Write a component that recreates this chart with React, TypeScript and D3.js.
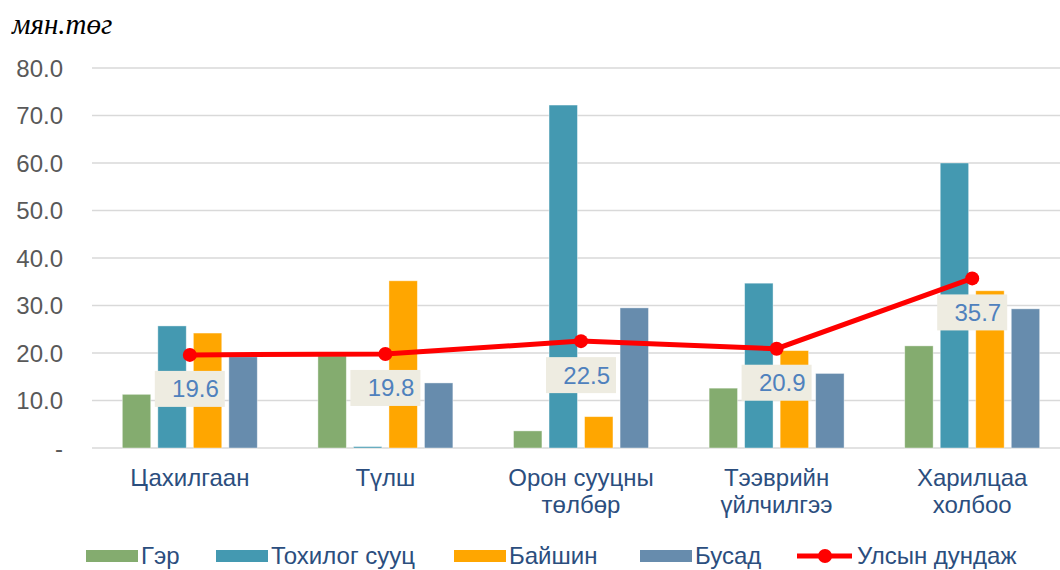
import React, { useRef, useEffect } from 'react';
import * as d3 from 'd3';

const categories = [['Цахилгаан'], ['Түлш'], ['Орон сууцны', 'төлбөр'], ['Тээврийн', 'үйлчилгээ'], ['Харилцаа', 'холбоо']];
const seriesNames = ['Гэр', 'Тохилог сууц', 'Байшин', 'Бусад'];
const ger = [11.3, 19.4, 3.6, 12.6, 21.5];
const tokhilog = [25.7, 0.3, 72.2, 34.7, 60.0];
const baishin = [24.2, 35.2, 6.6, 20.5, 33.1];
const busad = [19.2, 13.7, 29.5, 15.7, 29.3];
const average = [19.6, 19.8, 22.5, 20.9, 35.7];
const yTicks = [0, 10, 20, 30, 40, 50, 60, 70, 80];

const colors = ['#84ac6f', '#4499b1', '#ffa600', '#678cad'];
const W = 1060;
const H = 570;

const App = () => {
  const ref = useRef<SVGSVGElement>(null);

  useEffect(() => {
    const svg = d3.select(ref.current);
    svg.selectAll('*').remove();

    const catKeys = categories.map(c => c.join(' '));
    const values = [ger, tokhilog, baishin, busad];

    const x0 = d3.scaleBand().domain(catKeys).range([92, 1070]).paddingInner(0.31).paddingOuter(0.155);
    const x1 = d3.scaleBand().domain(seriesNames).range([0, x0.bandwidth()]).paddingInner(0.2);
    const y = d3.scaleLinear().domain([0, 80]).range([448, 68]);

    // gridlines + tick labels
    const grid = svg.append('g');
    grid.selectAll('line').data(yTicks).join('line')
      .attr('x1', 92).attr('x2', W)
      .attr('y1', d => y(d)).attr('y2', d => y(d))
      .attr('stroke', '#d9d9d9').attr('stroke-width', 1.5);
    grid.selectAll('text').data(yTicks).join('text')
      .attr('x', 63).attr('y', d => y(d))
      .attr('text-anchor', 'end').attr('dominant-baseline', 'central')
      .attr('font-family', 'Liberation Sans, Arial, sans-serif').attr('font-size', 24)
      .attr('fill', '#595959')
      .text(d => (d === 0 ? '-' : d.toFixed(1)));

    // bars
    seriesNames.forEach((s, si) => {
      svg.append('g').selectAll('rect').data(values[si]).join('rect')
        .attr('x', (d, i) => x0(catKeys[i])! + x1(s)!)
        .attr('y', d => y(d))
        .attr('width', x1.bandwidth())
        .attr('height', d => y(0) - y(d))
        .attr('fill', colors[si])
        .attr('stroke', '#ffffff').attr('stroke-opacity', 0.5).attr('stroke-width', 0.8);
    });

    // category labels
    const cx = (i: number) => x0(catKeys[i])! + x0.bandwidth() / 2;
    const cat = svg.append('g');
    categories.forEach((lines, i) => {
      lines.forEach((t, li) => {
        cat.append('text')
          .attr('x', cx(i)).attr('y', 486 + li * 27)
          .attr('text-anchor', 'middle')
          .attr('font-family', 'Liberation Sans, Arial, sans-serif').attr('font-size', 24)
          .attr('fill', '#2b4e7e')
          .text(t);
      });
    });

    // average line
    const line = d3.line<number>().x((d, i) => cx(i)).y(d => y(d));
    svg.append('path').datum(average)
      .attr('fill', 'none').attr('stroke', '#ff0000').attr('stroke-width', 5)
      .attr('d', line);
    svg.append('g').selectAll('circle').data(average).join('circle')
      .attr('cx', (d, i) => cx(i)).attr('cy', d => y(d)).attr('r', 7)
      .attr('fill', '#ff0000');

    // data labels
    const lab = svg.append('g').selectAll('g').data(average).join('g')
      .attr('transform', (d, i) => `translate(${cx(i)},${y(d) + 16})`);
    lab.append('rect')
      .attr('x', -35).attr('y', 0).attr('width', 70).attr('height', 36)
      .attr('fill', '#eeece1');
    lab.append('text')
      .attr('x', 29).attr('y', 18).attr('text-anchor', 'end').attr('dominant-baseline', 'central')
      .attr('font-family', 'Liberation Sans, Arial, sans-serif').attr('font-size', 24)
      .attr('fill', '#4f81bd')
      .text(d => d.toFixed(1));

    // title
    svg.append('text')
      .attr('x', 12).attr('y', 34)
      .attr('font-family', 'Liberation Serif, Times New Roman, serif')
      .attr('font-style', 'italic').attr('font-size', 29)
      .attr('fill', '#000')
      .text('мян.төг');

    // legend
    const leg = svg.append('g');
    const swatchX = [86, 216, 454, 640];
    seriesNames.forEach((s, si) => {
      leg.append('rect')
        .attr('x', swatchX[si]).attr('y', 550).attr('width', 52).attr('height', 12)
        .attr('fill', colors[si]);
      leg.append('text')
        .attr('x', swatchX[si] + 55).attr('y', 564)
        .attr('font-family', 'Liberation Sans, Arial, sans-serif').attr('font-size', 24)
        .attr('fill', '#2b4e7e')
        .text(s);
    });
    leg.append('line')
      .attr('x1', 797).attr('x2', 852).attr('y1', 556).attr('y2', 556)
      .attr('stroke', '#ff0000').attr('stroke-width', 5);
    leg.append('circle').attr('cx', 825).attr('cy', 556).attr('r', 7).attr('fill', '#ff0000');
    leg.append('text')
      .attr('x', 857).attr('y', 564)
      .attr('font-family', 'Liberation Sans, Arial, sans-serif').attr('font-size', 24)
      .attr('fill', '#2b4e7e')
      .text('Улсын дундаж');
  }, []);

  return (
    <svg ref={ref} width={W} height={H}
      style={{ position: 'absolute', left: 0, top: 0, background: '#fff' }} />
  );
};

export default App;
